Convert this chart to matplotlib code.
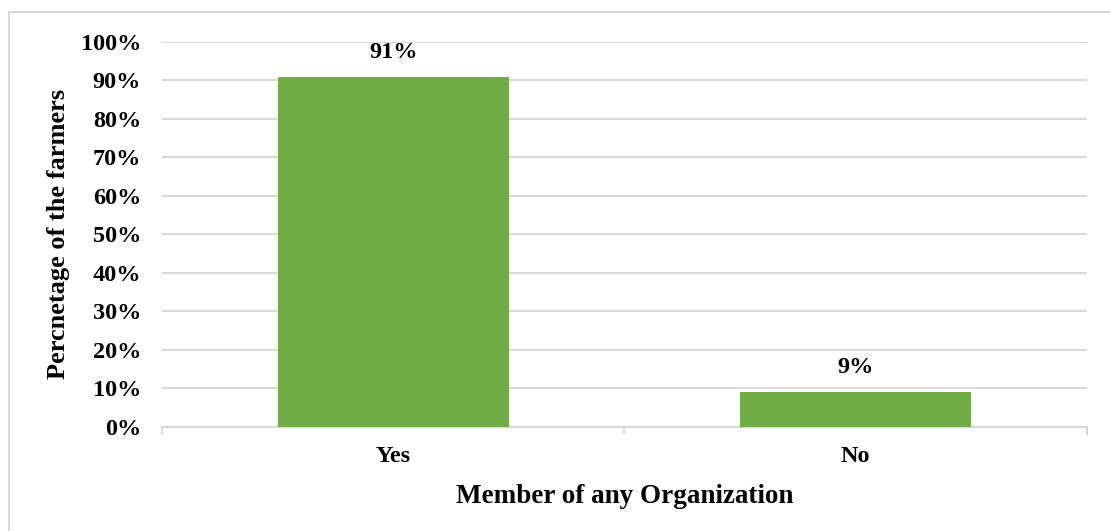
"""Bar chart: farmers who are members of any organization."""
import matplotlib.pyplot as plt
from matplotlib.patches import Rectangle
from matplotlib.ticker import PercentFormatter

categories = ["Yes", "No"]
shares = [91, 9]
y_ticks = [0, 10, 20, 30, 40, 50, 60, 70, 80, 90, 100]

BAR_GREEN = "#70ad47"
GRID_GRAY = "#d9d9d9"

plt.rcParams["font.family"] = ["Liberation Serif", "DejaVu Serif"]
plt.rcParams["font.weight"] = "bold"

fig = plt.figure(figsize=(11.10, 5.31), dpi=100)
ax = fig.add_axes([0.146, 0.196, 0.833, 0.725])

# outer frame of the chart area (runs off the right and bottom edges)
fig.patches.append(Rectangle((9 / 1110, -0.05), 1.2, (531 - 12) / 531 + 0.05,
                             transform=fig.transFigure, fill=False,
                             edgecolor=GRID_GRAY, linewidth=1.5))

x = range(len(categories))
bars = ax.bar(x, shares, width=0.5, color=BAR_GREEN, zorder=3)
for rect, val in zip(bars, shares):
    ax.annotate(f"{val}%", (rect.get_x() + rect.get_width() / 2, val),
                xytext=(0, 10), textcoords="offset points",
                ha="center", va="bottom", fontsize=17.5, fontweight="bold")

ax.set_xlim(-0.5, len(categories) - 0.5)
ax.set_ylim(0, 100)
ax.set_yticks(y_ticks)
ax.yaxis.set_major_formatter(PercentFormatter(decimals=0))
ax.set_xticks(list(x))
ax.set_xticklabels(categories)
ax.set_xticks([-0.5, 0.5, 1.5], minor=True)

ax.grid(axis="y", color=GRID_GRAY, linewidth=1.5, zorder=0)
for side in ["top", "right", "left"]:
    ax.spines[side].set_visible(False)
ax.spines["bottom"].set_color(GRID_GRAY)
ax.spines["bottom"].set_linewidth(1.5)

ax.tick_params(axis="y", length=0, pad=15, labelsize=17.5)
ax.tick_params(axis="x", which="major", length=0, pad=14, labelsize=17.5)
ax.tick_params(axis="x", which="minor", length=6, width=1.5, color=GRID_GRAY)

ax.set_xlabel("Member of any Organization", fontsize=19.5, fontweight="bold",
              labelpad=12)
ax.set_ylabel("Percnetage of the farmers", fontsize=19, fontweight="bold",
              labelpad=8)

plt.savefig("out.png", dpi=100)
